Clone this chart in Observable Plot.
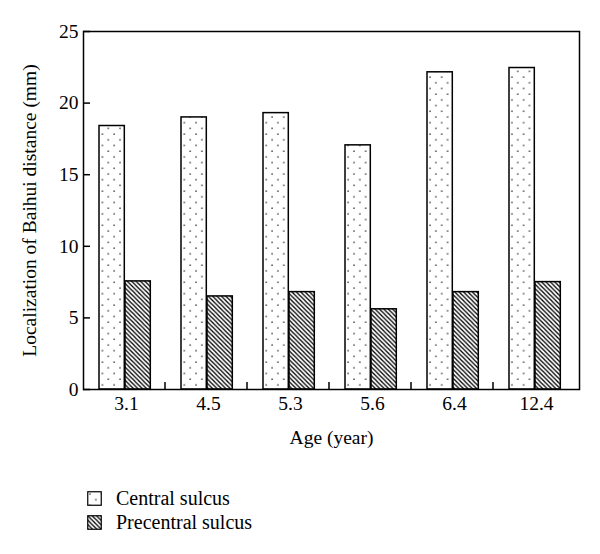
<!DOCTYPE html>
<html>
<head>
<meta charset="utf-8">
<script src="https://cdn.jsdelivr.net/npm/d3@7"></script>
<script src="https://cdn.jsdelivr.net/npm/@observablehq/plot@0.6"></script>
<style>
  html, body { margin: 0; padding: 0; background: #fff; }
  body { width: 600px; height: 554px; overflow: hidden; font-family: "Liberation Serif", serif; }
  #legend { padding-top: 16px; padding-left: 87px; font-size: 20px; color: #000; }
  .row { display: flex; align-items: center; height: 24px; }
  .row svg { margin-right: 14px; }
</style>
</head>
<body>
<svg width="0" height="0" style="position:absolute">
  <defs>
    <pattern id="dots" patternUnits="userSpaceOnUse" width="11.7" height="11.4">
      <rect width="11.7" height="11.4" fill="#fff"/>
      <circle cx="3" cy="3" r="0.8" fill="#444"/>
      <circle cx="8.85" cy="8.7" r="0.8" fill="#444"/>
    </pattern>
    <pattern id="hatch" patternUnits="userSpaceOnUse" width="4.4" height="4.4">
      <rect width="4.4" height="4.4" fill="#fff"/>
      <path d="M-1,-1 L5.4,5.4 M-1,3.4 L1,5.4 M3.4,-1 L5.4,1" stroke="#000" stroke-width="1.3"/>
    </pattern>
  </defs>
</svg>
<div id="chart"></div>
<div id="legend"></div>
<script>
const ages = ["3.1", "4.5", "5.3", "5.6", "6.4", "12.4"];
const central = [18.4, 19.0, 19.3, 17.05, 22.15, 22.45];
const precentral = [7.55, 6.5, 6.8, 5.6, 6.8, 7.5];
const seriesNames = ["Central sulcus", "Precentral sulcus"];
const seriesFills = ["url(#dots)", "url(#hatch)"];
const yTicks = [0, 5, 10, 15, 20, 25];

const data = [];
ages.forEach((a, i) => {
  data.push({age: a, series: seriesNames[0], value: central[i]});
  data.push({age: a, series: seriesNames[1], value: precentral[i]});
});

const boundaryTicks = (index, scales) => {
  const x = scales.x, y = scales.y;
  const r0 = Math.min(...x.range());
  const step = x.step();
  const g = d3.create("svg:g").attr("stroke", "#000").attr("stroke-width", 1.5);
  for (let i = 1; i < ages.length; i++) {
    const px = r0 + i * step;
    g.append("line").attr("x1", px).attr("x2", px).attr("y1", y(0)).attr("y2", y(0) - 7);
  }
  return g.node();
};

const chart = Plot.plot({
  width: 600,
  height: 470,
  marginTop: 31,
  marginLeft: 83,
  marginRight: 21,
  marginBottom: 81,
  style: {fontFamily: "Liberation Serif", fontSize: "19.5px", color: "#000", background: "#fff"},
  x: {domain: ages, padding: 0},
  y: {domain: [0, 25]},
  marks: [
    Plot.barY(data.filter(d => d.series === seriesNames[0]), {
      x: "age", y: "value", fill: seriesFills[0], stroke: "#000", strokeWidth: 1.5,
      insetLeft: 14, insetRight: 42.7
    }),
    Plot.barY(data.filter(d => d.series === seriesNames[1]), {
      x: "age", y: "value", fill: seriesFills[1], stroke: "#000", strokeWidth: 1.5,
      insetLeft: 40, insetRight: 16.7
    }),
    Plot.frame({stroke: "#000", strokeWidth: 1.5}),
    Plot.axisY({ticks: yTicks, tickSize: -7, strokeWidth: 1.5, tickFormat: () => "", label: null}),
    Plot.axisY({ticks: yTicks, tickSize: 0, tickPadding: 5, label: "Localization of Baihui distance (mm)",
      labelAnchor: "center", labelOffset: 61, labelArrow: false}),
    Plot.axisX({tickSize: 0, tickPadding: 7, label: "Age (year)", labelAnchor: "center",
      labelOffset: 54, labelArrow: false}),
    boundaryTicks
  ]
});
document.getElementById("chart").appendChild(chart);

const legend = d3.select("#legend");
seriesNames.forEach((name, i) => {
  const row = legend.append("div").attr("class", "row");
  const s = row.append("svg").attr("width", 15).attr("height", 15);
  s.append("rect").attr("x", 0.75).attr("y", 0.75).attr("width", 13.5).attr("height", 13.5)
    .attr("fill", seriesFills[i]).attr("stroke", "#000").attr("stroke-width", 1.2);
  row.append("span").text(name);
});
</script>
</body>
</html>
